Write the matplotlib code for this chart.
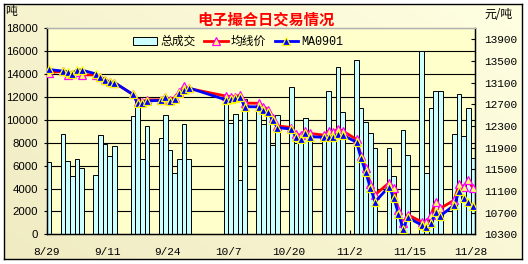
import matplotlib
matplotlib.use('Agg')
import matplotlib.pyplot as plt
import matplotlib.dates as mdates
import numpy as np
import pandas as pd
from matplotlib.lines import Line2D
from matplotlib.patches import Patch

plt.rcParams['font.family'] = ['Liberation Sans', 'Noto Sans CJK SC', 'DejaVu Sans']

# ---------------- data ----------------
dates = ['8/29',
         '9/1', '9/2', '9/3', '9/4', '9/5',
         '9/8', '9/9', '9/10', '9/11', '9/12',
         '9/16', '9/17', '9/18', '9/19',
         '9/22', '9/23', '9/24', '9/25', '9/26', '9/27', '9/28',
         '10/6', '10/7', '10/8', '10/9', '10/10',
         '10/13', '10/14', '10/15', '10/16', '10/17',
         '10/20', '10/21', '10/22', '10/23', '10/24',
         '10/27', '10/28', '10/29', '10/30', '10/31',
         '11/3', '11/4', '11/5', '11/6', '11/7',
         '11/10', '11/11', '11/12', '11/13', '11/14',
         '11/17', '11/18', '11/19', '11/20', '11/21',
         '11/24', '11/25', '11/26', '11/27', '11/28']

volume = [6300,
          8750, 6400, 5070, 6560, 5830,
          5160, 8660, 7930, 6820, 7700,
          10350, 11950, 6560, 9450,
          8400, 10410, 7350, 5335, 6560, 9620, 6560,
          11450, 9700, 10510, 4725, 11850,
          10750, 9630, 10800, 7800, 10440,
          12850, 7950, 8800, 10150, 8600,
          8200, 12500, 8600, 14600, 10650,
          15220, 11020, 9800, 8890, 7530,
          7530, 5100, 1500, 9120, 6940,
          15980, 5340, 11020, 12480, 12480,
          8750, 12250, 8550, 11030, 6650]

avg_price = [13280,
             13310, 13240, 13260, 13300, 13240,
             13240, 13200, 13150, 13110, 13100,
             12880, 12740, 12740, 12780,
             12780, 12840, 12780, 12820, 12930, 13030, 12990,
             12850, 12840, 12840, 12870, 12720,
             12717, 12654, 12600, 12440, 12300,
             12270, 12145, 12130, 12210, 12160,
             12130, 12200, 12190, 12240, 12210,
             12050, 11740, 11530, 11230, 11030,
             11250, 11150, 10740, 10500, 10660,
             10530, 10530, 10650, 10900, 10780,
             10930, 11220, 11180, 11300, 11150]

ma0901 = [13340,
          13310, 13300, 13260, 13330, 13330,
          13260, 13200, 13150, 13110, 13100,
          12880, 12720, 12720, 12760,
          12770, 12840, 12760, 12790, 12900, 12970, 13000,
          12780, 12795, 12810, 12840, 12655,
          12650, 12590, 12560, 12410, 12270,
          12240, 12100, 12050, 12175, 12100,
          12090, 12100, 12100, 12145, 12130,
          12000, 11700, 11440, 11150, 10900,
          11180, 10970, 10680, 10400, 10610,
          10470, 10430, 10500, 10720, 10640,
          10840, 11090, 10970, 10900, 10830]

tick_dates = ['8/29', '9/11', '9/24', '10/7', '10/20', '11/2', '11/15', '11/28']
left_ticks = [0, 2000, 4000, 6000, 8000, 10000, 12000, 14000, 16000, 18000]
right_ticks = [10300, 10700, 11100, 11500, 11900, 12300, 12700, 13100, 13500, 13900]
series_names = ['总成交', '均线价', 'MA0901']


def to_num(s):
    return mdates.date2num(pd.Timestamp(f"2008/{s}"))


x = np.array([to_num(s) for s in dates])
xt = [to_num(s) for s in tick_dates]

# ---------------- figure ----------------
W, H = 528, 264
fig = plt.figure(figsize=(W / 100, H / 100), dpi=100)
fig.patch.set_facecolor('white')

# chart area background with gradient and border
bg = fig.add_axes([4 / W, 5 / H, 518 / W, 255 / H], zorder=-10)
u = np.linspace(0, 1, 200)
v = np.linspace(0, 1, 100)
U, V = np.meshgrid(u, v)
t = (U * 0.6 + V * 0.4)
c0 = np.array([0xF0, 0xEB, 0xC2]) / 255.0
c1 = np.array([0xFF, 0xFF, 0xE2]) / 255.0
grad = c0[None, None, :] * (1 - t[..., None]) + c1[None, None, :] * t[..., None]
bg.imshow(grad, extent=[0, 1, 0, 1], aspect='auto', origin='lower')
bg.set_xticks([])
bg.set_yticks([])
for s in bg.spines.values():
    s.set_color('black')
    s.set_linewidth(1.0)

ax = fig.add_axes([46.7 / W, 29.7 / H, 428.6 / W, 206 / H])
ax.set_facecolor('#FFFFCC')

for val in left_ticks[1:-1]:
    ax.axhline(val, color='black', lw=0.8, zorder=1)

ax.bar(x, volume, width=1.0, align='edge', color='#CCFFFF',
       edgecolor='black', linewidth=0.7, zorder=2)

ax.set_xlim(to_num('8/29'), to_num('11/28') + 1)
ax.set_ylim(0, 18000)
ax.set_yticks(left_ticks)
ax.set_yticklabels([str(v) for v in left_ticks])
ax.set_xticks(xt)
ax.set_xticklabels(tick_dates)

ax.tick_params(axis='y', direction='out', length=2, width=0.8, pad=4,
               labelsize=8.2, colors='black')
ax.tick_params(axis='x', direction='in', length=3, width=0.8, pad=9,
               labelsize=8)
for tl in ax.get_xticklabels():
    tl.set_fontfamily('Liberation Mono')

ax2 = ax.twinx()
ax2.set_ylim(10300, 14100)
ax2.set_yticks(right_ticks)
ax2.set_yticklabels([str(v) for v in right_ticks])
ax2.tick_params(axis='y', direction='in', length=3, width=0.8, pad=6.5,
                labelsize=8)
for tl in ax2.get_yticklabels():
    tl.set_fontfamily('Liberation Mono')

l1, = ax2.plot(x + 0.5, avg_price, color='#FF0000', lw=2.0, marker='^', ms=5.8,
               mfc='#FFFF66', mec='#FF00FF', mew=0.9, zorder=3)
l2, = ax2.plot(x + 0.5, ma0901, color='#0000FF', lw=2.0, marker='^', ms=5.8,
               mfc='#0000FF', mec='#FFFF00', mew=0.9, zorder=4)

for a in (ax, ax2):
    for side in ('left', 'right', 'bottom'):
        a.spines[side].set_color('black')
        a.spines[side].set_linewidth(0.9)
    a.spines['top'].set_color('#B0B0B0')
    a.spines['top'].set_linewidth(0.9)

handles = [Patch(facecolor='#CCFFFF', edgecolor='black', linewidth=0.7), l1, l2]
leg = ax2.legend(handles, series_names, ncol=3, loc='center',
                 bbox_to_anchor=(238.5 / W, 1 - 41.5 / H),
                 bbox_transform=fig.transFigure, frameon=False,
                 fontsize=8.5, handlelength=2.0, handletextpad=0.3,
                 columnspacing=0.7, borderpad=0.2, numpoints=1)
for txt in leg.get_texts():
    if txt.get_text() == 'MA0901':
        txt.set_fontfamily('Liberation Mono')
    else:
        txt.set_fontfamily(['Noto Sans CJK SC', 'DejaVu Sans'])

fig.text(265.5 / W, 1 - 19.2 / H, '电子撮合日交易情况', color='#FF0000',
         fontsize=11, fontweight='bold', ha='center', va='center',
         family=['Noto Sans CJK SC', 'DejaVu Sans'])
fig.text(5 / W, 1 - 12 / H, '吨', fontsize=8.5, ha='left', va='center',
         family=['Noto Sans CJK SC', 'DejaVu Sans'])
fig.text(484 / W, 1 - 14 / H, '元/吨', fontsize=8.5, ha='left', va='center',
         family=['Noto Sans CJK SC', 'DejaVu Sans'])

fig.savefig('out.png', dpi=100)
